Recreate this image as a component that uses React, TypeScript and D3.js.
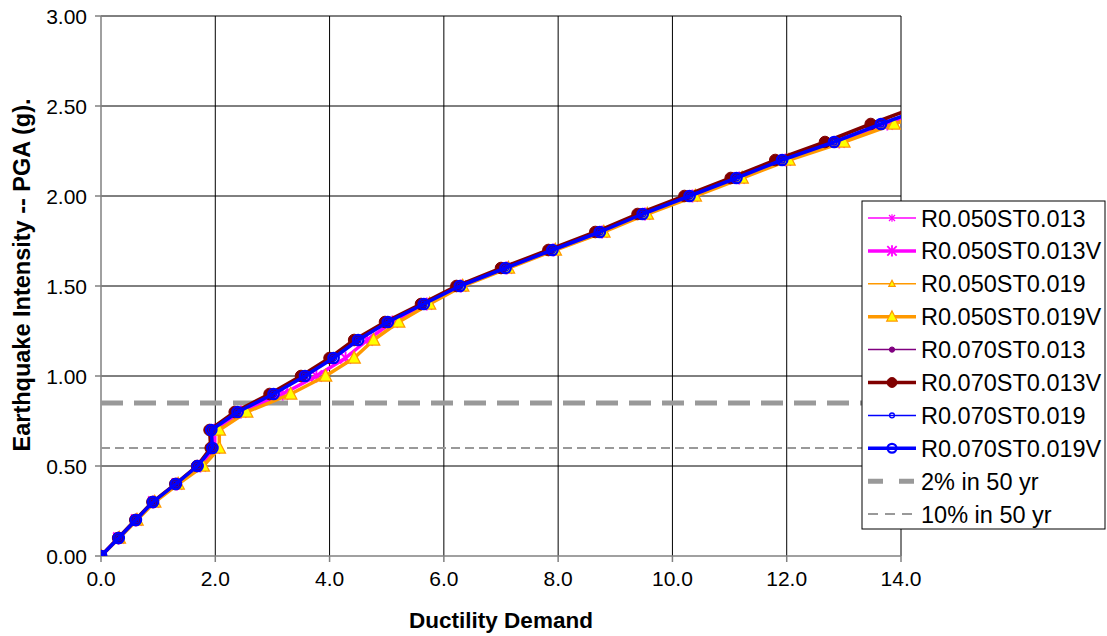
import React from "react";
import * as d3 from "d3";

// PGA levels (g) at which ductility demand was evaluated
const pga = [0, 0.1, 0.2, 0.3, 0.4, 0.5, 0.6, 0.7, 0.8, 0.9, 1.0, 1.1, 1.2, 1.3, 1.4, 1.5, 1.6, 1.7, 1.8, 1.9, 2.0, 2.1, 2.2, 2.3, 2.4, 2.5];

// Ductility demand per series
const r050st013 = [0, 0.31, 0.62, 0.92, 1.33, 1.74, 1.99, 1.99, 2.45, 3.18, 3.77, 4.28, 4.66, 5.10, 5.70, 6.30, 7.10, 7.92, 8.77, 9.52, 10.35, 11.17, 11.98, 12.92, 13.76, 14.62];
const r050st013V = [0, 0.31, 0.62, 0.92, 1.33, 1.74, 1.99, 1.99, 2.45, 3.18, 3.77, 4.28, 4.66, 5.10, 5.70, 6.30, 7.10, 7.92, 8.77, 9.52, 10.35, 11.17, 11.98, 12.92, 13.76, 14.62];
const r050st019 = [0, 0.32, 0.63, 0.94, 1.35, 1.79, 2.07, 2.07, 2.55, 3.32, 3.93, 4.43, 4.77, 5.21, 5.75, 6.33, 7.13, 7.95, 8.80, 9.56, 10.40, 11.22, 12.04, 13.00, 13.88, 14.76];
const r050st019V = [0, 0.32, 0.63, 0.94, 1.35, 1.79, 2.07, 2.07, 2.55, 3.32, 3.93, 4.43, 4.77, 5.21, 5.75, 6.33, 7.13, 7.95, 8.80, 9.56, 10.40, 11.22, 12.04, 13.00, 13.88, 14.76];
const r070st013 = [0, 0.30, 0.60, 0.90, 1.30, 1.68, 1.92, 1.90, 2.34, 2.95, 3.50, 4.00, 4.43, 4.97, 5.60, 6.22, 7.00, 7.83, 8.65, 9.39, 10.21, 11.02, 11.80, 12.67, 13.47, 14.30];
const r070st013V = [0, 0.30, 0.60, 0.90, 1.30, 1.68, 1.92, 1.90, 2.34, 2.95, 3.50, 4.00, 4.43, 4.97, 5.60, 6.22, 7.00, 7.83, 8.65, 9.39, 10.21, 11.02, 11.80, 12.67, 13.47, 14.30];
const r070st019 = [0, 0.31, 0.61, 0.91, 1.31, 1.69, 1.95, 1.93, 2.39, 3.02, 3.57, 4.07, 4.50, 5.02, 5.65, 6.28, 7.08, 7.90, 8.73, 9.48, 10.30, 11.12, 11.92, 12.83, 13.65, 14.50];
const r070st019V = [0, 0.31, 0.61, 0.91, 1.31, 1.69, 1.95, 1.93, 2.39, 3.02, 3.57, 4.07, 4.50, 5.02, 5.65, 6.28, 7.08, 7.90, 8.73, 9.48, 10.30, 11.12, 11.92, 12.83, 13.65, 14.50];

const seriesNames = [
  "R0.050ST0.013", "R0.050ST0.013V", "R0.050ST0.019", "R0.050ST0.019V",
  "R0.070ST0.013", "R0.070ST0.013V", "R0.070ST0.019", "R0.070ST0.019V",
];
const seriesValues = [r050st013, r050st013V, r050st019, r050st019V, r070st013, r070st013V, r070st019, r070st019V];

// Hazard levels
const hazardNames = ["2% in 50 yr", "10% in 50 yr"];
const hazardPGA = [0.85, 0.6];

// Axis ticks
const xTicks = [0, 2, 4, 6, 8, 10, 12, 14];
const yTicks = [0, 0.5, 1.0, 1.5, 2.0, 2.5, 3.0];

const xTitle = "Ductility Demand";
const yTitle = "Earthquake Intensity -- PGA (g).";

type Style = { color: string; width: number; marker: string; size: number; fill: string };

const styles: Style[] = [
  { color: "#FF00FF", width: 1.3, marker: "star", size: 3.8, fill: "none" },
  { color: "#FF00FF", width: 3.5, marker: "star", size: 5.5, fill: "none" },
  { color: "#FF9900", width: 1.3, marker: "tri", size: 4, fill: "#FFFF00" },
  { color: "#FF9900", width: 3.5, marker: "tri", size: 6.2, fill: "#FFFF00" },
  { color: "#800080", width: 1.3, marker: "dot", size: 3.3, fill: "#800080" },
  { color: "#800000", width: 3.5, marker: "dot", size: 5.8, fill: "#800000" },
  { color: "#0000FF", width: 1.3, marker: "circle", size: 3, fill: "none" },
  { color: "#0000FF", width: 3.5, marker: "circle", size: 5.2, fill: "none" },
];

const hazardStyles = [
  { width: 5, dash: "22,11", legendDash: "15,16" },
  { width: 2, dash: "9,5", legendDash: "10,7" },
];

const FONT = "'Liberation Sans', Arial, sans-serif";

function Marker({ cx, cy, s }: { cx: number; cy: number; s: Style }) {
  const r = s.size;
  if (s.marker === "star") {
    const d = `M${cx - r},${cy - r}L${cx + r},${cy + r}M${cx - r},${cy + r}L${cx + r},${cy - r}M${cx},${cy - r * 1.2}L${cx},${cy + r * 1.2}`;
    return <path d={d} stroke={s.color} strokeWidth={s.width > 2 ? 1.8 : 1.2} fill="none" />;
  }
  if (s.marker === "tri") {
    const h = r * 1.1;
    const d = `M${cx},${cy - h}L${cx + r},${cy + h * 0.75}L${cx - r},${cy + h * 0.75}Z`;
    return <path d={d} stroke={s.color} strokeWidth={1.2} fill={s.fill} />;
  }
  if (s.marker === "dot") {
    return <circle cx={cx} cy={cy} r={r} fill={s.fill} stroke={s.color} strokeWidth={1} />;
  }
  return <circle cx={cx} cy={cy} r={r} fill="none" stroke={s.color} strokeWidth={s.width > 2 ? 2.3 : 1.3} />;
}

export default function App() {
  const W = 1107;
  const H = 636;
  const x = d3.scaleLinear().domain([0, 14]).range([101, 901]);
  const y = d3.scaleLinear().domain([0, 3]).range([556, 16]);
  const [x0, x1] = x.range();
  const [y0, y1] = y.range();

  const line = (vals: number[]) =>
    d3.line<number>().x((v) => x(v)).y((_, i) => y(pga[i]))(vals) || "";

  const fx = d3.format(".1f");
  const fy = d3.format(".2f");

  // legend layout
  const lgX = 862, lgY = 201, lgW = 243, lgH = 328;
  const rowY0 = 218, rowDy = 32.9;
  const sx0 = 868, sx1 = 916, sxm = 892, tx = 921;

  return (
    <svg width={W} height={H} style={{ position: "absolute", left: 0, top: 0, background: "#fff" }} fontFamily={FONT}>
      <defs>
        <clipPath id="plotClip">
          <rect x={x0} y={y1} width={x1 - x0} height={y0 - y1} />
        </clipPath>
      </defs>
      <rect x={0} y={0} width={W} height={H} fill="#fff" />

      {/* gridlines */}
      {yTicks.filter((t) => t > 0).map((t) => (
        <line key={"gy" + t} x1={x0} x2={x1} y1={y(t)} y2={y(t)} stroke="#000" strokeWidth={1} />
      ))}
      {xTicks.filter((t) => t > 0).map((t) => (
        <line key={"gx" + t} x1={x(t)} x2={x(t)} y1={y1} y2={y0} stroke="#000" strokeWidth={1} />
      ))}

      {/* axes */}
      <line x1={x0} x2={x0} y1={y1} y2={y0} stroke="#808080" strokeWidth={1.5} />
      <line x1={x0} x2={x1} y1={y0} y2={y0} stroke="#808080" strokeWidth={1.5} />
      {yTicks.map((t) => (
        <line key={"ty" + t} x1={x0 - 6} x2={x0} y1={y(t)} y2={y(t)} stroke="#808080" strokeWidth={1.5} />
      ))}
      {xTicks.map((t) => (
        <line key={"tx" + t} x1={x(t)} x2={x(t)} y1={y0} y2={y0 + 6} stroke="#808080" strokeWidth={1.5} />
      ))}

      {/* tick labels */}
      {yTicks.map((t) => (
        <text key={"ly" + t} x={87} y={y(t) + 7.5} textAnchor="end" fontSize={21} fill="#000">
          {fy(t)}
        </text>
      ))}
      {xTicks.map((t) => (
        <text key={"lx" + t} x={x(t)} y={586} textAnchor="middle" fontSize={21} fill="#000">
          {fx(t)}
        </text>
      ))}

      {/* axis titles */}
      <text x={501} y={628} textAnchor="middle" fontSize={22.5} fontWeight="bold" fill="#000">
        {xTitle}
      </text>
      <text transform={`translate(30,275) rotate(-90)`} textAnchor="middle" fontSize={23.5} fontWeight="bold" fill="#000">
        {yTitle}
      </text>

      {/* hazard lines */}
      <g clipPath="url(#plotClip)">
        {hazardPGA.map((p, i) => (
          <line key={"hz" + i} x1={x0} x2={x1} y1={y(p)} y2={y(p)} stroke="#999999"
            strokeWidth={hazardStyles[i].width} strokeDasharray={hazardStyles[i].dash} />
        ))}
      </g>

      {/* series */}
      <g clipPath="url(#plotClip)">
        {seriesValues.map((vals, si) => (
          <g key={"s" + si}>
            <path d={line(vals)} fill="none" stroke={styles[si].color} strokeWidth={styles[si].width} strokeLinejoin="round" />
            {vals.map((v, i) => (
              <Marker key={i} cx={x(v)} cy={y(pga[i])} s={styles[si]} />
            ))}
          </g>
        ))}
      </g>

      {/* legend */}
      <rect x={lgX} y={lgY} width={lgW} height={lgH} fill="#fff" stroke="#000" strokeWidth={1} />
      {seriesNames.map((name, i) => {
        const cy = rowY0 + i * rowDy;
        const st = styles[i];
        return (
          <g key={"lg" + i}>
            <line x1={sx0} x2={sx1} y1={cy} y2={cy} stroke={st.color} strokeWidth={st.width > 2 ? 3.5 : 1.5} />
            <Marker cx={sxm} cy={cy} s={{ ...st, size: st.width > 2 ? st.size * 0.85 : st.size * 0.8 }} />
            <text x={tx} y={cy + 8.5} fontSize={23.5} fill="#000">{name}</text>
          </g>
        );
      })}
      {hazardNames.map((name, j) => {
        const cy = rowY0 + (seriesNames.length + j) * rowDy;
        return (
          <g key={"lh" + j}>
            <line x1={sx0} x2={sx1} y1={cy} y2={cy} stroke="#999999" strokeWidth={hazardStyles[j].width}
              strokeDasharray={hazardStyles[j].legendDash} />
            <text x={tx} y={cy + 8.5} fontSize={23.5} fill="#000">{name}</text>
          </g>
        );
      })}
    </svg>
  );
}
